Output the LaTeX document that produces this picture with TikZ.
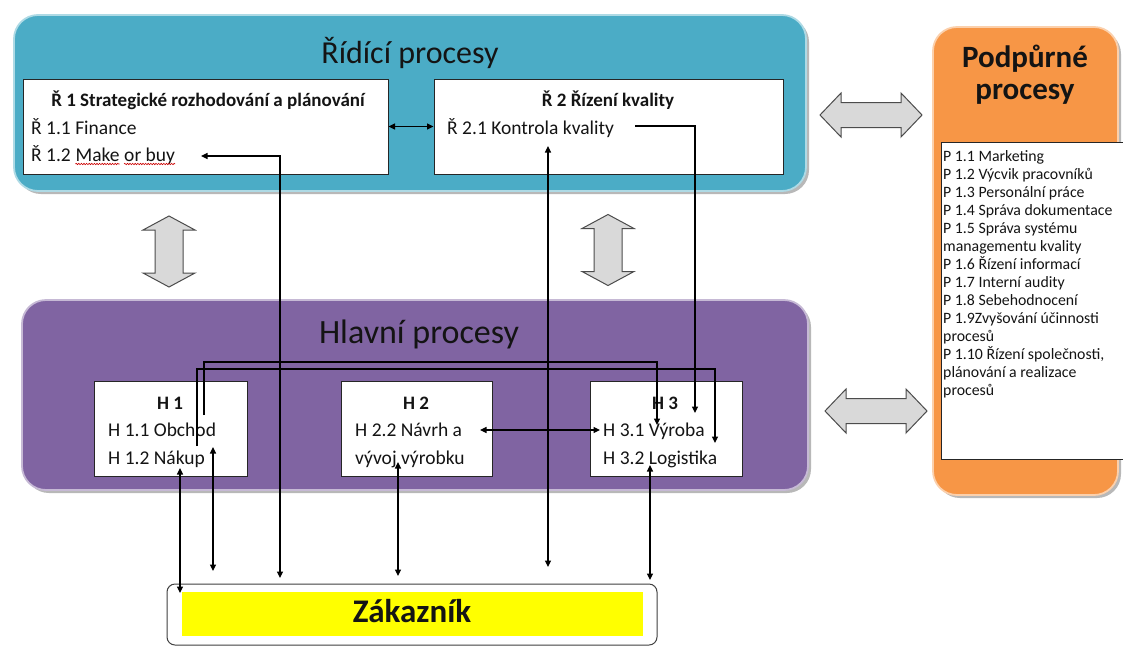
\documentclass[tikz,border=0pt]{standalone}
\usepackage{fontspec}
\setmainfont{Carlito}
\usetikzlibrary{arrows.meta,decorations.pathmorphing}
\definecolor{rblue}{HTML}{4BACC6}
\definecolor{hpurple}{HTML}{8064A2}
\definecolor{porange}{HTML}{F79646}
\definecolor{gfill}{HTML}{D9D9D9}
\definecolor{ttxt}{HTML}{141414}
\definecolor{zyellow}{HTML}{FFFF00}
\begin{document}
\begin{tikzpicture}[x=1pt,y=-1pt,
  bigbox/.style={rounded corners=24pt, draw=white!55!#1, line width=1.8pt, fill=#1, inner sep=0pt},
  shadowbox/.style={rounded corners=24pt, fill=black!28, draw=none, inner sep=0pt},
  wbox/.style={draw=black!85, line width=1pt, fill=white, inner sep=0pt},
  conn/.style={draw=black, line width=1.1pt, >={Triangle[length=6.5pt,width=6pt]}},
  garrow/.style={draw=black!70, line width=1pt, fill=gfill, line join=miter},
  body/.style={font=\fontsize{19.5}{23}\selectfont, text=ttxt, inner sep=0pt},
  head/.style={font=\fontsize{19}{23}\selectfont\bfseries, text=ttxt, inner sep=0pt},
  listtxt/.style={font=\fontsize{15.8}{18}\selectfont, text=ttxt, inner sep=0pt, anchor=base west},
  title/.style={font=\fontsize{#1}{36}\selectfont, text=ttxt, inner sep=0pt, anchor=base},
  btitle/.style={font=\fontsize{#1}{36}\selectfont\bfseries, text=ttxt, inner sep=0pt, anchor=base},
  squig/.style={draw=red!80!black, line width=0.6pt, decorate, decoration={snake, amplitude=0.7pt, segment length=2.6pt}},
  vdarr/.pic={\path[garrow] (0,-35.5) -- (26,-21.5) -- (14,-21.5) -- (14,21.5) -- (26,21.5) -- (0,35.5) -- (-26,21.5) -- (-14,21.5) -- (-14,-21.5) -- (-26,-21.5) -- cycle;},
  hdarr/.pic={\path[garrow] (-51,0) -- (-30,-22) -- (-30,-12.5) -- (30,-12.5) -- (30,-22) -- (51,0) -- (30,22) -- (30,12.5) -- (-30,12.5) -- (-30,22) -- cycle;}
]
\useasboundingbox (0,0) rectangle (1123,646);
\fill[white] (0,0) rectangle (1123,646);

% big rounded boxes with shadows
\node[shadowbox, minimum width=792pt, minimum height=176pt] (rsh) at (413,106) {};
\node[bigbox=rblue, minimum width=792pt, minimum height=176pt] (ridici) at (410,103) {};
\node[shadowbox, minimum width=786pt, minimum height=190pt] (hsh) at (418,398) {};
\node[bigbox=hpurple, minimum width=786pt, minimum height=190pt] (hlavni) at (415,395) {};
\node[shadowbox, minimum width=185pt, minimum height=468pt] (psh) at (1028.5,264) {};
\node[bigbox=porange, minimum width=185pt, minimum height=468pt] (podp) at (1025.5,261) {};

% titles
\node[title=32] (tR) at (410,63) {Řídící procesy};
\node[title=34] (tH) at (419,343) {Hlavní procesy};
\node[btitle=31] (tP1) at (1025,67) {Podpůrné};
\node[btitle=31] (tP2) at (1025,99) {procesy};

% white boxes
\node[wbox, minimum width=365pt, minimum height=95pt] (r1) at (205.5,126.5) {};
\node[wbox, minimum width=349pt, minimum height=95pt] (r2) at (608.5,126.5) {};
\node[wbox, minimum width=153pt, minimum height=95pt] (h1) at (170.5,428.5) {};
\node[wbox, minimum width=151pt, minimum height=95pt] (h2) at (416.5,428.5) {};
\node[wbox, minimum width=152pt, minimum height=95pt] (h3) at (666,428.5) {};
\node[wbox, minimum width=187pt, minimum height=317pt] (plist) at (1034.5,300.5) {};

% R1 texts
\node[head, anchor=base] (r1h) at (208,106) {Ř 1 Strategické rozhodování a plánování};
\node[body, anchor=base west] (r11) at (31,134) {Ř 1.1 Finance};
\node[body, anchor=base west] (r12) at (31,161) {Ř 1.2};
\node[body, anchor=base west] (rmake) at ([xshift=4.3pt]r12.base east) {Make};
\node[body, anchor=base west] (rorbuy) at ([xshift=4.3pt]rmake.base east) {or buy};
\path[squig] ([yshift=-3pt]rmake.base west) -- ([yshift=-3pt]rmake.base east);
\path[squig] ([yshift=-3pt]rorbuy.base west) -- ([yshift=-3pt]rorbuy.base east);
% R2 texts
\node[head, anchor=base] (r2h) at (608,106) {Ř 2 Řízení kvality};
\node[body, anchor=base west] (r21) at (447,134) {Ř 2.1 Kontrola kvality};

% H texts
\node[head, anchor=base] (h1h) at (170,409) {H 1};
\node[body, anchor=base west] (h11) at (108,436) {H 1.1 Obchod};
\node[body, anchor=base west] (h12) at (108,464) {H 1.2 Nákup};
\node[head, anchor=base] (h2h) at (416,409) {H 2};
\node[body, anchor=base west] (h21) at (355,436) {H 2.2 Návrh a};
\node[body, anchor=base west] (h22) at (355,464) {vývoj výrobku};
\node[head, anchor=base] (h3h) at (665,409) {H 3};
\node[body, anchor=base west] (h31) at (603,436) {H 3.1 Výroba};
\node[body, anchor=base west] (h32) at (603,464) {H 3.2 Logistika};

% supporting list
\foreach \t [count=\i] in {P 1.1 Marketing, P 1.2 Výcvik pracovníků, P 1.3 Personální práce, P 1.4 Správa dokumentace, P 1.5 Správa systému, managementu kvality, P 1.6 Řízení informací, P 1.7 Interní audity, P 1.8 Sebehodnocení, P 1.9Zvyšování účinnosti, procesů, {P 1.10 Řízení společnosti,}, plánování a realizace, procesů}
  \node[listtxt] (pl\i) at (943,{161+18*(\i-1)}) {\t};

% customer
\node[draw=black!75, line width=1pt, rounded corners=8pt, fill=white, minimum width=490pt, minimum height=61pt, inner sep=0pt] (zak) at (412,614.5) {};
\node[fill=zyellow, minimum width=461pt, minimum height=44pt, inner sep=0pt] (zy) at (412.5,614) {};
\node[btitle=33] (zt) at (412,622) {Zákazník};

% grey block arrows
\pic (va1) at (169,251.5) {vdarr};
\pic (va2) at (608,250) {vdarr};
\pic (ha1) at (871,115) {hdarr};
\pic (ha2) at (876,411) {hdarr};

% connector end points
\coordinate (mobT) at (201,156);
\coordinate (zA) at (280,578);
\coordinate (kqT) at (548,146);
\coordinate (zB) at (548,567);
\coordinate (kqR) at (635,126);
\coordinate (h3K) at (695,413);
\coordinate (a1) at (204,415);
\coordinate (hA) at (430,362);
\coordinate (a2) at (657,425);
\coordinate (b1) at (197,446);
\coordinate (hB) at (430,369);
\coordinate (b2) at (715,443);
\coordinate (h2T) at (480,430);
\coordinate (h3T) at (600,430);
\coordinate (nkT) at (180,468);
\coordinate (zC) at (180,593);
\coordinate (obT) at (213,447);
\coordinate (zD) at (213,571);
\coordinate (h2B) at (398,462);
\coordinate (zE) at (398,576);
\coordinate (h3B) at (650,465);
\coordinate (zF) at (650,580);

% connectors
\draw[conn,<->] (r1) -- (r2);
\draw[conn,<->] (mobT) -| (zA);
\draw[conn,<->] (kqT) -- (zB);
\draw[conn,->] (kqR) -| (h3K);
\draw[conn,->] (a1) |- (hA) -| (a2);
\draw[conn,->] (b1) |- (hB) -| (b2);
\draw[conn,<->] (h2T) -- (h3T);
\draw[conn,<->] (nkT) -- (zC);
\draw[conn,<->] (obT) -- (zD);
\draw[conn,<->] (h2B) -- (zE);
\draw[conn,<->] (h3B) -- (zF);
\end{tikzpicture}
\end{document}
